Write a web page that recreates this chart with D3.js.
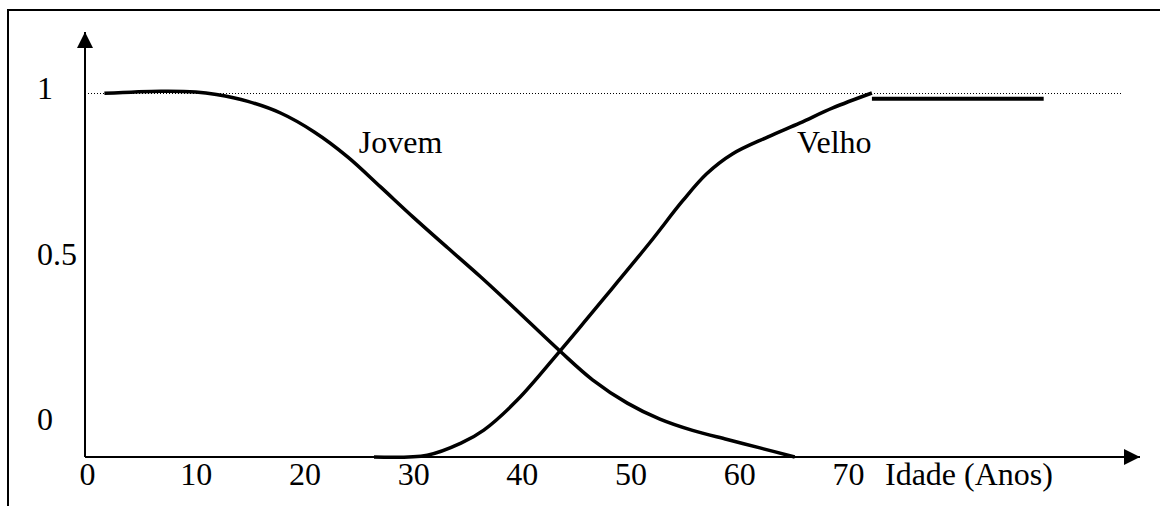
<!DOCTYPE html>
<html>
<head>
<meta charset="utf-8">
<script src="https://cdn.jsdelivr.net/npm/d3@7"></script>
<style>
  body { margin: 0; background: #fff; }
  text { font-family: "Liberation Serif", "Times New Roman", serif; fill: #000; }
</style>
</head>
<body>
<div id="chart"></div>
<script>
'use strict';

// age axis tick labels and membership tick labels
const xTicks = [0, 10, 20, 30, 40, 50, 60, 70];
const yTicks = [0, 0.5, 1];

// "Jovem" membership curve: [age, degree]
const jovem = [
  [1.6, 0.999], [6.8, 1.005], [10.0, 1.003], [11.9, 0.996], [14.8, 0.977],
  [17.8, 0.945], [20.9, 0.893], [24.0, 0.824], [27.0, 0.742], [30.0, 0.659],
  [33.2, 0.574], [36.2, 0.495], [39.2, 0.412], [43.5, 0.291], [46.5, 0.212],
  [49.7, 0.148], [52.7, 0.104], [55.7, 0.073], [58.9, 0.048], [61.9, 0.025],
  [65.1, 0.0]
];

// "Velho" membership curve
const velho = [
  [26.4, 0.0], [31.3, 0.005], [34.4, 0.038], [36.5, 0.074], [39.6, 0.157],
  [43.5, 0.291], [46.0, 0.380], [47.7, 0.441], [48.8, 0.481], [51.8, 0.590],
  [54.8, 0.704], [57.0, 0.778], [59.4, 0.833], [62.6, 0.879], [65.6, 0.918],
  [68.6, 0.959], [72.2, 1.0]
];

// flat tail drawn after the Velho curve
const velhoTail = [[72.2, 0.984], [88.0, 0.984]];

// curve names and where they sit [age, degree]
const curveNames = ['Jovem', 'Velho'];
const namePos = [[25.0, 0.835], [65.3, 0.835]];

const xTitle = 'Idade (Anos)';

const width = 1160;
const height = 506;
const fontSize = '32px';

const svg = d3.select('#chart')
  .append('svg')
  .attr('width', width)
  .attr('height', height);

// frame (clipped at right and bottom like the original drawing)
svg.append('rect')
  .attr('x', 8)
  .attr('y', 10)
  .attr('width', width + 20)
  .attr('height', height + 20)
  .attr('fill', 'none')
  .attr('stroke', '#000')
  .attr('stroke-width', 2)

// scales
const x = d3.scaleLinear()
  .domain([0, 70])
  .range([87, 848])

const y = d3.scaleLinear()
  .domain([0, 1])
  .range([457, 93])

// tick labels sit a bit above the value in the drawing
const yLab = y.copy().range([y(0) - 27, y(1) + 6])

// dotted guide at degree 1
svg.append('line')
  .attr('x1', x(0) + 1)
  .attr('x2', 1122)
  .attr('y1', y(1) + 0.5)
  .attr('y2', y(1) + 0.5)
  .attr('stroke', '#000')
  .attr('stroke-width', 1)
  .attr('stroke-dasharray', '1,2')
  .attr('shape-rendering', 'crispEdges')

// arrow heads
const defs = svg.append('defs')
defs.append('marker')
  .attr('id', 'arrow')
  .attr('viewBox', '0 0 10 10')
  .attr('refX', 10)
  .attr('refY', 5)
  .attr('markerWidth', 8)
  .attr('markerHeight', 8)
  .attr('markerUnits', 'strokeWidth')
  .attr('orient', 'auto')
  .append('path')
  .attr('d', 'M0,0 L10,5 L0,10 Z')
  .attr('fill', '#000')

const axisX0 = x(0) - 2

// y axis line
svg.append('line')
  .attr('x1', axisX0)
  .attr('x2', axisX0)
  .attr('y1', y(0))
  .attr('y2', 32)
  .attr('stroke', '#000')
  .attr('stroke-width', 2)
  .attr('marker-end', 'url(#arrow)')

// x axis line
svg.append('line')
  .attr('x1', axisX0)
  .attr('x2', 1140)
  .attr('y1', y(0))
  .attr('y2', y(0))
  .attr('stroke', '#000')
  .attr('stroke-width', 2)
  .attr('marker-end', 'url(#arrow)')

// x tick labels
const xAxis = d3.axisBottom(x)
  .tickValues(xTicks)
  .tickSize(0)
  .tickPadding(0)
  .tickFormat(d3.format('d'))

const xAxisGroup = svg.append('g')
  .attr('transform', `translate(0, ${y(0)})`)
  .call(xAxis)

xAxisGroup.select('.domain').remove()
xAxisGroup.selectAll('text')
  .attr('y', 28)
  .attr('dy', 0)
  .attr('fill', '#000')
  .style('font-family', '"Liberation Serif", serif')
  .style('font-size', fontSize)

// x title
xAxisGroup.append('text')
  .attr('x', x(70) + 37)
  .attr('y', 28)
  .attr('text-anchor', 'start')
  .style('font-size', fontSize)
  .text(xTitle)

// y tick labels
svg.append('g')
  .selectAll('text')
  .data(yTicks)
  .join('text')
  .attr('x', 37)
  .attr('y', d => yLab(d))
  .style('font-size', fontSize)
  .text(d => d3.format('')(d))

// curves
const line = d3.line()
  .x(d => x(d[0]))
  .y(d => y(d[1]))
  .curve(d3.curveCatmullRom.alpha(0.5))

svg.append('path')
  .datum(jovem)
  .attr('d', line)
  .attr('fill', 'none')
  .attr('stroke', '#000')
  .attr('stroke-width', 3.5)

svg.append('path')
  .datum(velho)
  .attr('d', line)
  .attr('fill', 'none')
  .attr('stroke', '#000')
  .attr('stroke-width', 3.5)

svg.append('path')
  .datum(velhoTail)
  .attr('d', d3.line().x(d => x(d[0])).y(d => y(d[1])))
  .attr('fill', 'none')
  .attr('stroke', '#000')
  .attr('stroke-width', 4)

// curve names
svg.append('g')
  .selectAll('text')
  .data(curveNames)
  .join('text')
  .attr('x', (d, i) => x(namePos[i][0]))
  .attr('y', (d, i) => y(namePos[i][1]))
  .style('font-size', fontSize)
  .text(d => d)
</script>
</body>
</html>
